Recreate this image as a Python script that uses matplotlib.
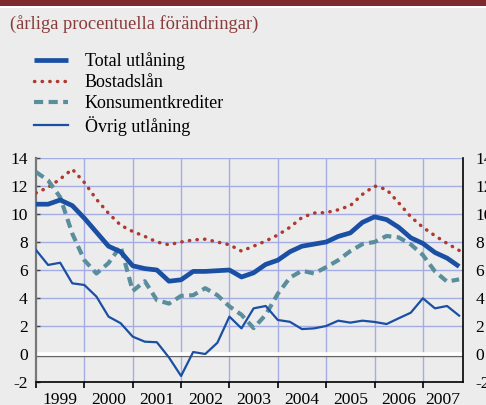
import numpy as np
import matplotlib
matplotlib.use("Agg")
import matplotlib.pyplot as plt
from matplotlib.patches import Rectangle

plt.rcParams['font.family'] = ['Liberation Serif', 'DejaVu Serif']

# quarterly data, 1999 Q1 - 2007 Q4
start_year = 1999
years = list(range(1999, 2008))

total = [10.7, 10.7, 11.0, 10.6, 9.7, 8.7, 7.7, 7.3, 6.3, 6.1, 6.0, 5.2,
         5.3, 5.9, 5.9, 5.95, 6.0, 5.5, 5.8, 6.4, 6.7, 7.3, 7.7, 7.85,
         8.0, 8.4, 8.65, 9.4, 9.8, 9.6, 9.05, 8.3, 7.9, 7.25, 6.85, 6.25]
bostad = [11.5, 11.9, 12.5, 13.2, 12.25, 11.05, 10.05, 9.2, 8.75, 8.4, 8.0, 7.8,
          8.0, 8.15, 8.2, 8.0, 7.8, 7.35, 7.7, 8.07, 8.5, 9.05, 9.75, 10.07,
          10.1, 10.3, 10.6, 11.4, 12.0, 11.75, 10.8, 9.8, 9.05, 8.45, 7.9, 7.4]
konsument = [13.0, 12.4, 11.2, 8.6, 6.7, 5.75, 6.5, 7.7, 4.5, 5.2, 3.85, 3.6,
             4.15, 4.2, 4.7, 4.2, 3.4, 2.8, 1.85, 2.8, 4.3, 5.45, 5.95, 5.75,
             6.2, 6.7, 7.35, 7.85, 8.0, 8.43, 8.33, 7.83, 7.07, 5.9, 5.17, 5.33]
ovrig = [7.43, 6.36, 6.52, 5.05, 4.93, 4.1, 2.67, 2.2, 1.24, 0.88, 0.84, -0.25,
         -1.57, 0.14, 0.0, 0.8, 2.67, 1.83, 3.26, 3.43, 2.43, 2.3, 1.78, 1.83,
         2.0, 2.38, 2.24, 2.38, 2.29, 2.14, 2.55, 2.95, 3.98, 3.26, 3.43, 2.74]

x = start_year + np.arange(len(total)) / 4.0

bg = '#ececec'
grid_col = '#a3ade3'
blue = '#1a4fa3'
red = '#b0382c'
teal = '#5a8e9c'

fig = plt.figure(figsize=(4.86, 4.05), dpi=100, facecolor=bg)

# top band and subtitle
fig.patches.append(Rectangle((0, 1 - 6 / 405), 1, 6 / 405, transform=fig.transFigure,
                             facecolor='#7f2a2e', edgecolor='none'))
fig.patches.append(Rectangle((0, 1 - 7.5 / 405), 1, 1.5 / 405, transform=fig.transFigure,
                             facecolor='white', edgecolor='none'))
fig.text(10 / 486, 1 - 24 / 405, '(årliga procentuella förändringar)', color='#8b3a3a',
         fontsize=13.3, va='center', ha='left')

ax = fig.add_axes([36 / 486, 1 - 382 / 405, 427 / 486, 224 / 405])
ax.set_facecolor(bg)

l1, = ax.plot(x, total, color=blue, lw=3.4, solid_capstyle='butt', zorder=5, label='Total utlåning')
l2, = ax.plot(x, bostad, color=red, lw=2.5, linestyle=(0, (0.1, 2.1)), dash_capstyle='round',
              zorder=4, label='Bostadslån')
l3, = ax.plot(x, konsument, color=teal, lw=3.0, linestyle=(0, (2.2, 1.3)), zorder=4,
              label='Konsumentkrediter')
l4, = ax.plot(x, ovrig, color=blue, lw=1.6, zorder=5, label='Övrig utlåning')

ax.set_xlim(1999.0, 2007.83)
ax.set_ylim(-2, 14)

# grid
for yv in range(2, 15, 2):
    ax.axhline(yv, color=grid_col, lw=1.0, zorder=1)
for yr in years[1:]:
    ax.axvline(yr, color=grid_col, lw=1.0, zorder=1)
ax.axhline(-0.13, color='#666666', lw=1.0, zorder=2)
ax.axhline(0, color='white', lw=2.6, zorder=2)

ax.set_yticks(range(-2, 15, 2))
ax.set_yticklabels([str(v) for v in range(-2, 15, 2)])
ax.set_xticks(years)
ax.set_xticklabels([])
ax.set_xticks([y + 0.5 for y in years[:-1]] + [2007.42], minor=True)
ax.set_xticklabels([str(y) for y in years], minor=True)
ax.tick_params(axis='x', which='major', direction='out', length=4, width=1.2, color='black')
ax.tick_params(axis='x', which='minor', length=0, pad=7, labelsize=12.6)
ax.tick_params(axis='y', direction='in', length=3, width=1, color='#444444', labelsize=12.6, pad=6)

ax.spines['top'].set_visible(False)
ax.spines['left'].set_color('#777777')
ax.spines['left'].set_linewidth(1.6)
ax.spines['right'].set_visible(False)
ax.spines['bottom'].set_color('black')
ax.spines['bottom'].set_linewidth(1.2)

ax2 = ax.twinx()
ax2.set_ylim(-2, 14)
ax2.set_yticks(range(-2, 15, 2))
ax2.set_yticklabels([str(v) for v in range(-2, 15, 2)])
ax2.tick_params(axis='y', length=0, labelsize=12.6, pad=9)
for s in ['top', 'left', 'bottom']:
    ax2.spines[s].set_visible(False)
ax2.spines['right'].set_color('black')
ax2.spines['right'].set_linewidth(1.2)

fig.legend(handles=[l1, l2, l3, l4], loc='upper left', bbox_to_anchor=(34 / 486, 1 - 52 / 405),
           frameon=False, fontsize=13, handlelength=1.9, handletextpad=0.9,
           labelspacing=0.22, borderaxespad=0, borderpad=0)

fig.savefig('out.png', dpi=100, facecolor=bg)
